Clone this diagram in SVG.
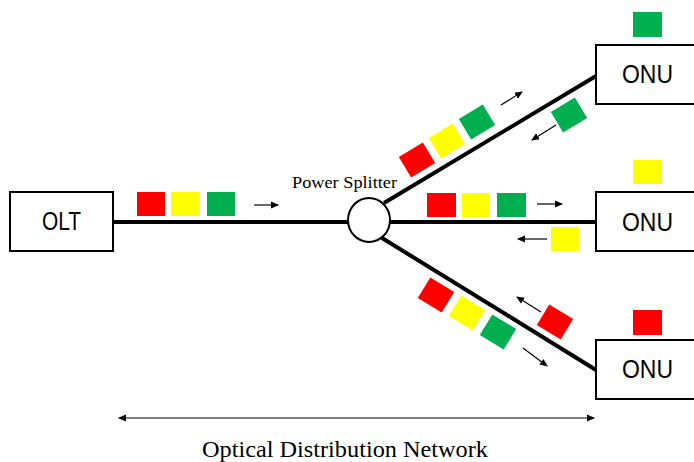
<svg xmlns="http://www.w3.org/2000/svg" width="694" height="462" viewBox="0 0 694 462">
  <style>
    .box { fill: #ffffff; stroke: #000000; stroke-width: 2; }
    .fiber { stroke: #000000; stroke-width: 4; fill: none; }
    .dir { stroke: #000000; stroke-width: 1.2; fill: none; marker-end: url(#head); }
    .lbl { font-family: "Liberation Sans", Arial, sans-serif; font-size: 25px; fill: #000000; }
    .serif { font-family: "Liberation Serif", "Times New Roman", serif; fill: #000000; }
    .r { fill: #ff0000; }
    .y { fill: #ffff00; }
    .g { fill: #00b050; }
  </style>
  <defs>
    <marker id="head" markerWidth="8" markerHeight="8" refX="7" refY="4" orient="auto" markerUnits="userSpaceOnUse">
      <path d="M0,0.5 L8,4 L0,7.5 Z" fill="#000000"/>
    </marker>
    <marker id="tail" markerWidth="8" markerHeight="8" refX="1" refY="4" orient="auto" markerUnits="userSpaceOnUse">
      <path d="M8,0.5 L0,4 L8,7.5 Z" fill="#000000"/>
    </marker>
    <rect id="sq" x="-14" y="-12" width="28" height="24"/>
  </defs>

  <!-- fibers -->
  <g id="connectors">
    <line class="fiber" x1="113" y1="222" x2="349" y2="222"/>
    <line class="fiber" x1="389" y1="222" x2="596" y2="222"/>
    <line class="fiber" x1="384" y1="203" x2="596" y2="76"/>
    <line class="fiber" x1="382" y1="238" x2="596" y2="370"/>
  </g>

  <!-- nodes -->
  <g id="olt">
    <rect class="box" x="10" y="192" width="103" height="59"/>
    <text class="lbl" x="42" y="230" textLength="39" lengthAdjust="spacingAndGlyphs">OLT</text>
  </g>
  <g id="splitter">
    <ellipse cx="369" cy="220" rx="21" ry="22" fill="#ffffff" stroke="#000000" stroke-width="2"/>
    <text class="serif" x="292" y="188" font-size="17" textLength="105" lengthAdjust="spacingAndGlyphs">Power Splitter</text>
  </g>
  <g id="onu-top">
    <rect class="box" x="596" y="45" width="110" height="59"/>
    <text class="lbl" x="622" y="83" textLength="51" lengthAdjust="spacingAndGlyphs">ONU</text>
  </g>
  <g id="onu-mid">
    <rect class="box" x="596" y="192" width="110" height="59"/>
    <text class="lbl" x="622" y="231" textLength="51" lengthAdjust="spacingAndGlyphs">ONU</text>
  </g>
  <g id="onu-bot">
    <rect class="box" x="596" y="340" width="110" height="59"/>
    <text class="lbl" x="622" y="378" textLength="51" lengthAdjust="spacingAndGlyphs">ONU</text>
  </g>

  <!-- wavelength frames -->
  <g id="frames">
    <!-- feeder -->
    <rect class="r" x="137" y="192" width="28" height="24"/>
    <rect class="y" x="171" y="192" width="28" height="24"/>
    <rect class="g" x="207" y="192" width="28" height="24"/>
    <!-- upper branch -->
    <use href="#sq" class="r" transform="translate(417,160) rotate(-31)"/>
    <use href="#sq" class="y" transform="translate(447,141) rotate(-31)"/>
    <use href="#sq" class="g" transform="translate(477,122) rotate(-31)"/>
    <use href="#sq" class="g" transform="translate(569,115) rotate(-31)"/>
    <rect class="g" x="633" y="12" width="29" height="25"/>
    <!-- middle branch -->
    <rect class="r" x="427" y="193" width="29" height="24"/>
    <rect class="y" x="462" y="193" width="28" height="24"/>
    <rect class="g" x="497" y="193" width="29" height="24"/>
    <rect class="y" x="551" y="227" width="28" height="24"/>
    <rect class="y" x="633" y="160" width="29" height="24"/>
    <!-- lower branch -->
    <use href="#sq" class="r" transform="translate(436,295) rotate(31.4)"/>
    <use href="#sq" class="y" transform="translate(467,313) rotate(31.4)"/>
    <use href="#sq" class="g" transform="translate(498,332) rotate(31.4)"/>
    <use href="#sq" class="r" transform="translate(555,322) rotate(31.4)"/>
    <rect class="r" x="633" y="310" width="29" height="25"/>
  </g>

  <!-- direction arrows -->
  <g id="directions">
    <line class="dir" x1="254" y1="205" x2="278" y2="205"/>
    <line class="dir" x1="501" y1="105" x2="522" y2="92"/>
    <line class="dir" x1="556" y1="125" x2="532" y2="140"/>
    <line class="dir" x1="537" y1="204" x2="562" y2="204"/>
    <line class="dir" x1="547" y1="239" x2="518" y2="239"/>
    <line class="dir" x1="541" y1="312" x2="517" y2="297"/>
    <line class="dir" x1="523" y1="348" x2="547" y2="366"/>
  </g>

  <!-- span of the distribution network -->
  <g id="odn">
    <line x1="119" y1="418" x2="594" y2="418" stroke="#000000" stroke-width="1.2" marker-start="url(#tail)" marker-end="url(#head)"/>
    <text class="serif" x="202" y="457" font-size="23" textLength="286" lengthAdjust="spacingAndGlyphs">Optical Distribution Network</text>
  </g>
</svg>
